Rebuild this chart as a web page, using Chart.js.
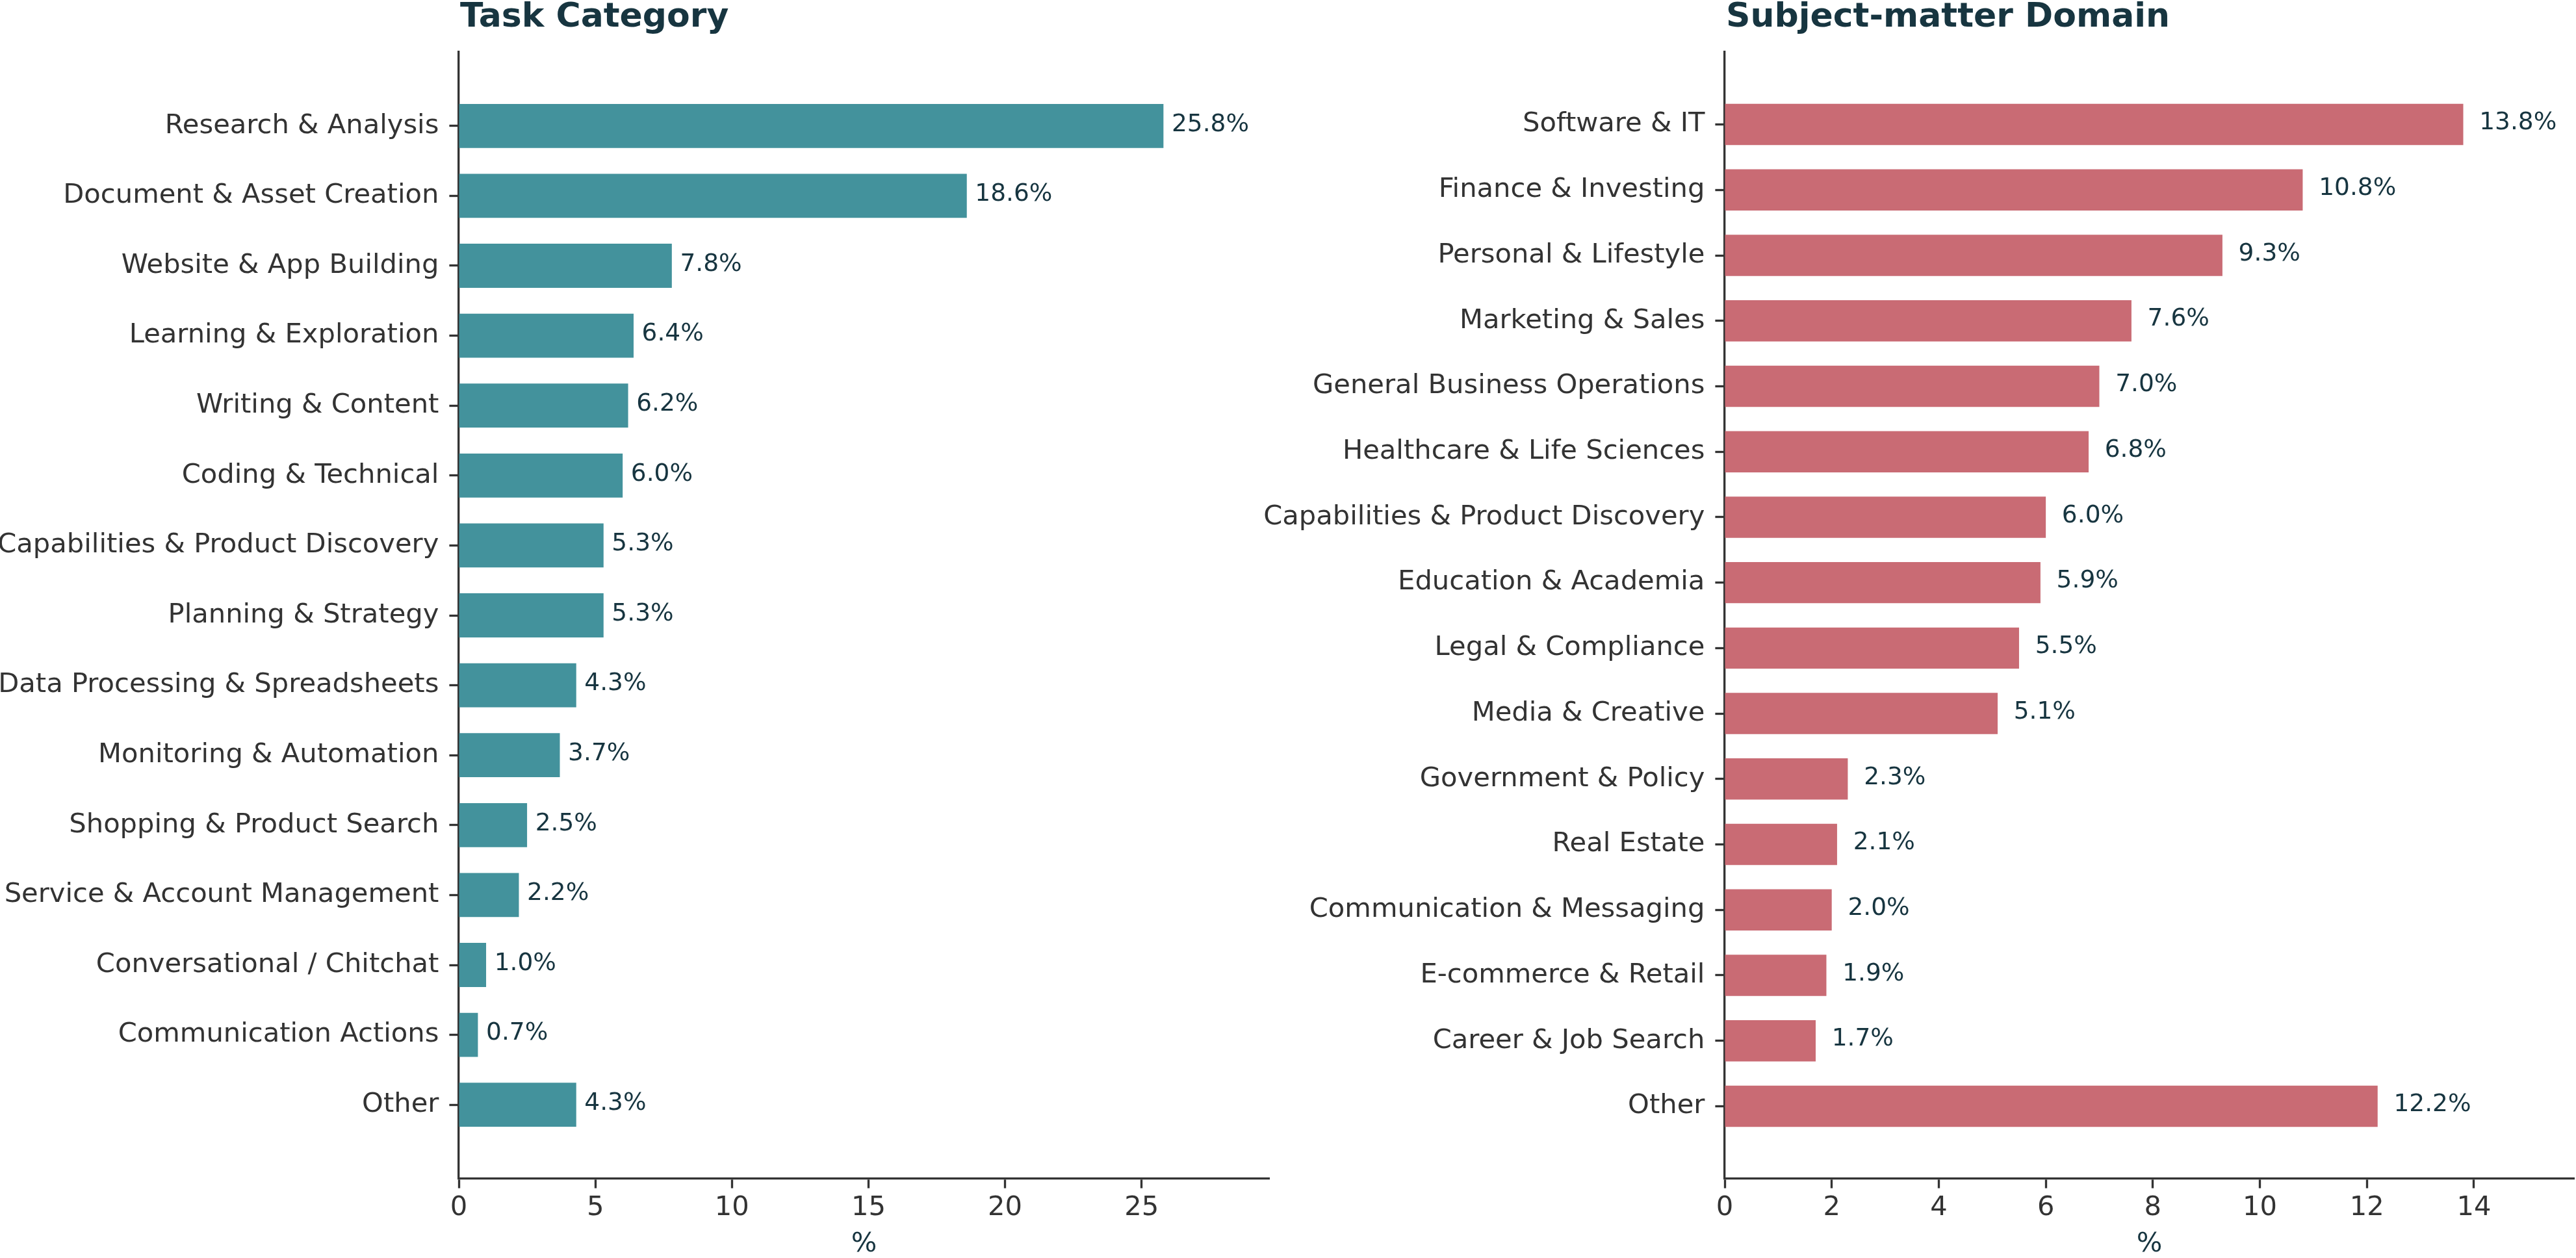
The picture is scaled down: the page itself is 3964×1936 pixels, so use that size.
<!DOCTYPE html>
<html>
<head>
<meta charset="utf-8">
<script src="https://cdn.jsdelivr.net/npm/chart.js@4.4.1/dist/chart.umd.min.js"></script>
<style>
  html, body { margin: 0; padding: 0; background: #ffffff; overflow: hidden; }
  #wrap { position: relative; width: 3964px; height: 1936px; background: #fff; }
  canvas { position: absolute; top: 0; }
  #c1 { left: 0; }
  #c2 { left: 1800px; }
</style>
</head>
<body>
<div id="wrap">
  <canvas id="c1" width="2000" height="1936"></canvas>
  <canvas id="c2" width="2164" height="1936"></canvas>
</div>
<script>
// ---- Data ----
const taskTitle = "Task Category";
const taskLabels = [
  "Research & Analysis",
  "Document & Asset Creation",
  "Website & App Building",
  "Learning & Exploration",
  "Writing & Content",
  "Coding & Technical",
  "Capabilities & Product Discovery",
  "Planning & Strategy",
  "Data Processing & Spreadsheets",
  "Monitoring & Automation",
  "Shopping & Product Search",
  "Service & Account Management",
  "Conversational / Chitchat",
  "Communication Actions",
  "Other"
];
const taskValues = [25.8, 18.6, 7.8, 6.4, 6.2, 6.0, 5.3, 5.3, 4.3, 3.7, 2.5, 2.2, 1.0, 0.7, 4.3];
const taskTicks = [0, 5, 10, 15, 20, 25];

const domainTitle = "Subject-matter Domain";
const domainLabels = [
  "Software & IT",
  "Finance & Investing",
  "Personal & Lifestyle",
  "Marketing & Sales",
  "General Business Operations",
  "Healthcare & Life Sciences",
  "Capabilities & Product Discovery",
  "Education & Academia",
  "Legal & Compliance",
  "Media & Creative",
  "Government & Policy",
  "Real Estate",
  "Communication & Messaging",
  "E-commerce & Retail",
  "Career & Job Search",
  "Other"
];
const domainValues = [13.8, 10.8, 9.3, 7.6, 7.0, 6.8, 6.0, 5.9, 5.5, 5.1, 2.3, 2.1, 2.0, 1.9, 1.7, 12.2];
const domainTicks = [0, 2, 4, 6, 8, 10, 12, 14];

const xAxisTitle = "%";

// ---- Styling ----
const FONT = "'DejaVu Sans', 'Liberation Sans', sans-serif";
const DARK = "#173540";
const AXIS = "#333333";
const LW = 3.33;

function makeChart(canvasId, title, labels, values, ticks, color, yAxisWidth, padRight) {
  const n = labels.length;
  const h = 0.65;
  const margin = 0.05 * (n - 1 + h);
  const yMin = -h / 2 - margin;
  const yMax = n - 1 + h / 2 + margin;
  const xMax = Math.max(...values) * 1.15;

  const overlay = {
    id: 'overlay',
    afterDatasetsDraw(chart) {
      const ctx = chart.ctx;
      const xs = chart.scales.x;
      const meta = chart.getDatasetMeta(0);
      ctx.save();
      ctx.font = "37.5px " + FONT;
      ctx.fillStyle = DARK;
      ctx.textAlign = 'left';
      ctx.textBaseline = 'middle';
      meta.data.forEach((bar, i) => {
        const v = values[i];
        const x = xs.getPixelForValue(v + 0.3);
        ctx.fillText(v.toFixed(1) + "%", x, bar.y - 2);
      });
      ctx.restore();
    },
    afterDraw(chart) {
      const ctx = chart.ctx;
      ctx.save();
      ctx.font = "bold 52px " + FONT;
      ctx.fillStyle = DARK;
      ctx.textAlign = 'left';
      ctx.textBaseline = 'alphabetic';
      ctx.fillText(title, chart.chartArea.left + 2, 41);
      ctx.restore();
    }
  };

  return new Chart(document.getElementById(canvasId), {
    type: 'bar',
    data: {
      datasets: [{
        data: values.map((v, i) => ({ x: v, y: i })),
        backgroundColor: color,
        borderWidth: 0,
        barPercentage: 0.63,
        categoryPercentage: 1.0
      }]
    },
    options: {
      indexAxis: 'y',
      responsive: false,
      animation: false,
      devicePixelRatio: 1,
      layout: { padding: { left: 0, right: padRight, top: 80, bottom: 0 } },
      plugins: {
        legend: { display: false },
        tooltip: { enabled: false },
        title: { display: false }
      },
      scales: {
        y: {
          type: 'linear',
          offset: false,
          min: yMin,
          max: yMax,
          reverse: true,
          afterBuildTicks(scale) {
            scale.ticks = labels.map((_, i) => ({ value: i }));
          },
          afterFit(scale) { scale.width = yAxisWidth; },
          ticks: {
            autoSkip: false,
            padding: 16,
            color: AXIS,
            font: { family: FONT, size: 41.67 },
            callback: (v) => labels[v]
          },
          grid: {
            display: true,
            offset: false,
            drawOnChartArea: false,
            drawTicks: true,
            tickLength: 14.6,
            tickWidth: LW,
            tickColor: AXIS
          },
          border: { display: true, color: AXIS, width: LW }
        },
        x: {
          type: 'linear',
          offset: false,
          min: 0,
          max: xMax,
          afterBuildTicks(scale) {
            scale.ticks = ticks.map(t => ({ value: t }));
          },
          afterFit(scale) { scale.height = 122; },
          ticks: {
            autoSkip: false,
            padding: 6,
            color: AXIS,
            font: { family: FONT, size: 41.67 },
            maxRotation: 0,
            callback: (v) => String(v)
          },
          grid: {
            display: true,
            offset: false,
            drawOnChartArea: false,
            drawTicks: true,
            tickLength: 14.6,
            tickWidth: LW,
            tickColor: AXIS
          },
          border: { display: true, color: AXIS, width: LW },
          title: {
            display: true,
            text: xAxisTitle,
            color: DARK,
            font: { family: FONT, size: 41.67, lineHeight: 1.0 },
            padding: { top: 0, bottom: 0 }
          }
        }
      }
    },
    plugins: [overlay]
  });
}

makeChart('c1', taskTitle, taskLabels, taskValues, taskTicks, '#43929C', 706, 47);
makeChart('c2', domainTitle, domainLabels, domainValues, domainTicks, '#C96B74', 854, 3);
</script>
</body>
</html>
